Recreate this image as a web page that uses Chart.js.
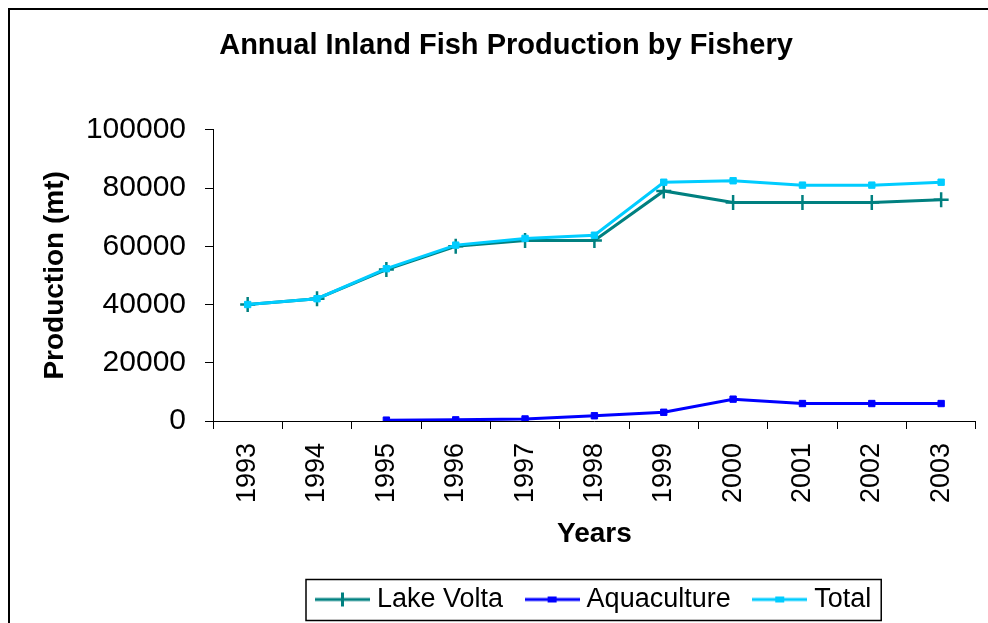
<!DOCTYPE html>
<html>
<head>
<meta charset="utf-8">
<script src="https://cdn.jsdelivr.net/npm/chart.js@4"></script>
<style>
html,body{margin:0;padding:0;background:#fff;overflow:hidden}
#wrap{position:relative;width:988px;height:623px}
</style>
</head>
<body>
<div id="wrap"><canvas id="c" width="988" height="623"></canvas></div>
<script>
// ---- data ----
const years = ['1993','1994','1995','1996','1997','1998','1999','2000','2001','2002','2003'];
const lakeVolta = [40000, 42000, 52000, 60000, 62000, 62000, 79000, 75000, 75000, 75000, 76000];
const aquaculture = [null, null, 300, 400, 700, 1800, 3000, 7500, 6000, 6000, 6000];
const total = [40000, 42000, 52300, 60400, 62700, 63800, 82000, 82500, 81000, 81000, 82000];
const seriesNames = ['Lake Volta', 'Aquaculture', 'Total'];
const yTicks = { min: 0, max: 100000, step: 20000 };

const FONT = "'Liberation Sans', Arial, sans-serif";
const COLORS = ['#008080', '#0000FF', '#00CCFF'];

function legendMarker(color, kind) {
  const c = document.createElement('canvas');
  c.width = 55; c.height = 16;
  const g = c.getContext('2d');
  g.strokeStyle = color; g.lineWidth = 3;
  g.beginPath(); g.moveTo(0, 8); g.lineTo(55, 8); g.stroke();
  if (kind === 'cross') {
    g.lineWidth = 3;
    g.beginPath(); g.moveTo(27.5, 1); g.lineTo(27.5, 15); g.stroke();
  } else {
    g.fillStyle = color;
    g.fillRect(23, 5, 9, 6);
  }
  return c;
}
const markers = [legendMarker(COLORS[0], 'cross'), legendMarker(COLORS[1], 'rect'), legendMarker(COLORS[2], 'rect')];

const framePlugin = {
  id: 'frame',
  beforeDraw(chart) {
    const ctx = chart.ctx;
    ctx.save();
    ctx.fillStyle = '#fff';
    ctx.fillRect(0, 0, chart.width, chart.height);
    ctx.strokeStyle = '#000';
    ctx.lineWidth = 2;
    ctx.beginPath();
    ctx.moveTo(9, chart.height + 5);
    ctx.lineTo(9, 9);
    ctx.lineTo(chart.width + 5, 9);
    ctx.stroke();
    ctx.restore();
  },
  afterUpdate(chart) {
    const lg = chart.legend;
    if (!lg) return;
    const dx = 293.5 - lg.left;
    lg.left += dx; lg.right += dx;
    (lg.legendHitBoxes || []).forEach(h => { h.left += dx; });
  },
  afterDraw(chart) {
    const lg = chart.legend;
    if (!lg || !lg.legendHitBoxes || !lg.legendHitBoxes.length) return;
    const hb = lg.legendHitBoxes;
    const last = hb[hb.length - 1];
    const x0 = hb[0].left - 15.5;
    const x1 = last.left + last.width + 10;
    const cy = hb[0].top + hb[0].height / 2;
    const ctx = chart.ctx;
    ctx.save();
    ctx.strokeStyle = '#000';
    ctx.lineWidth = 1.5;
    ctx.strokeRect(x0, cy - 20, x1 - x0, 41);
    ctx.restore();
  }
};

new Chart(document.getElementById('c'), {
  type: 'line',
  data: {
    labels: years,
    datasets: [
      { label: seriesNames[0], data: lakeVolta, borderColor: COLORS[0], backgroundColor: COLORS[0],
        borderWidth: 3, pointStyle: 'cross', pointRadius: 7.5, pointBorderWidth: 2.5, tension: 0, order: 2 },
      { label: seriesNames[1], data: aquaculture, borderColor: COLORS[1], backgroundColor: COLORS[1],
        borderWidth: 3, pointStyle: 'rect', pointRadius: 4.5, pointBorderWidth: 1, tension: 0, order: 1 },
      { label: seriesNames[2], data: total, borderColor: COLORS[2], backgroundColor: COLORS[2],
        borderWidth: 3, pointStyle: 'rect', pointRadius: 4.5, pointBorderWidth: 1, tension: 0, order: 0 }
    ]
  },
  options: {
    responsive: false,
    animation: false,
    events: [],
    layout: { padding: { left: 32, right: 8, top: 0, bottom: 0 } },
    plugins: {
      title: {
        display: true,
        text: 'Annual Inland Fish Production by Fishery',
        color: '#000',
        font: { family: FONT, size: 29, weight: 'bold' },
        padding: { top: 29, bottom: 66 }
      },
      legend: {
        position: 'bottom',
        align: 'start',
        labels: {
          usePointStyle: true,
          pointStyleWidth: 42,
          padding: 28,
          color: '#000',
          font: { family: FONT, size: 27 },
          generateLabels(chart) {
            return chart.data.datasets.map((ds, i) => ({
              text: ds.label, pointStyle: markers[i], fillStyle: ds.borderColor,
              strokeStyle: ds.borderColor, lineWidth: 0, hidden: false, datasetIndex: i, fontColor: '#000'
            }));
          }
        }
      },
      tooltip: { enabled: false }
    },
    scales: {
      x: {
        offset: true,
        ticks: { maxRotation: 90, minRotation: 90, padding: 14, autoSkip: false, color: '#000',
                 font: { family: FONT, size: 27 } },
        grid: { offset: true, drawOnChartArea: false, drawTicks: true, tickLength: 8, color: '#000' },
        border: { display: true, color: '#000', width: 1 },
        title: { display: true, text: 'Years', color: '#000',
                 font: { family: FONT, size: 28, weight: 'bold' }, padding: { top: 15, bottom: 7 } },
        afterFit(s) { s.height = 137; }
      },
      y: {
        min: yTicks.min, max: yTicks.max,
        ticks: { stepSize: yTicks.step, padding: 19, color: '#000',
                 font: { family: FONT, size: 30 }, callback: v => String(v) },
        grid: { drawOnChartArea: false, drawTicks: true, tickLength: 8, color: '#000' },
        border: { display: true, color: '#000', width: 1 },
        title: { display: true, text: 'Production (mt)', color: '#000',
                 font: { family: FONT, size: 28, weight: 'bold' }, padding: { top: 6, bottom: 0 } },
        afterFit(s) { s.width = 181; }
      }
    }
  },
  plugins: [framePlugin]
});
</script>
</body>
</html>
